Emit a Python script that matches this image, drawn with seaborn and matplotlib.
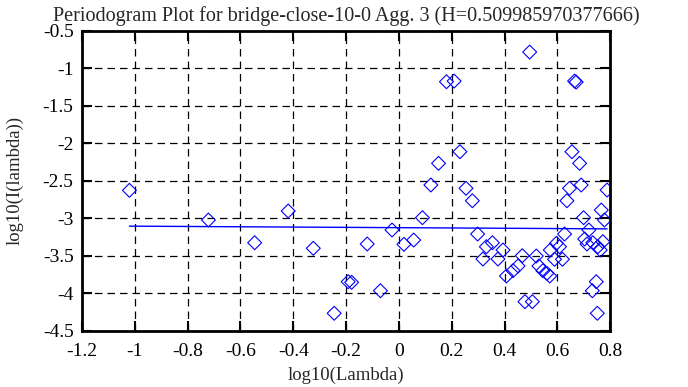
import numpy as np
import pandas as pd
import seaborn as sns
import matplotlib.pyplot as plt

#------------------------------------------------------------------------------------------------------------------------
# DATA
log_lambda = [-1.020, -0.721, -0.419, -0.546, -0.324, -0.192, -0.245,
              -0.179, -0.120, -0.070, -0.026, 0.019, 0.056, 0.089, 0.121,
              0.150, 0.180, 0.209, 0.231, 0.254, 0.278, 0.298, 0.318, 0.331,
              0.354, 0.375, 0.394, 0.407, 0.432, 0.451, 0.467, 0.477, 0.505,
              0.495, 0.520, 0.530, 0.545, 0.560, 0.571, 0.573, 0.589, 0.596,
              0.608, 0.619, 0.627, 0.636, 0.646, 0.655, 0.665, 0.671, 0.684,
              0.690, 0.699, 0.703, 0.719, 0.712, 0.734, 0.747, 0.732, 0.751,
              0.766, 0.778, 0.788, 0.753, 0.772, 0.762]
log_I = [-2.628, -3.024, -2.904, -3.327, -3.401, -3.847, -4.268,
         -3.855, -3.344, -3.967, -3.157, -3.348, -3.291, -2.993, -2.557,
         -2.268, -1.180, -1.171, -2.113, -2.601, -2.767, -3.211, -3.544, -3.380,
         -3.327, -3.544, -3.424, -3.771, -3.700, -3.637, -3.500, -4.113, -4.113,
         -0.784, -3.504, -3.637, -3.700, -3.735, -3.771, -3.424, -3.548, -3.335,
         -3.380, -3.548, -3.211, -2.767, -2.601, -2.113, -1.171, -1.184, -2.268,
         -2.557, -2.993, -3.277, -3.157, -3.344, -3.327, -3.847, -3.967, -4.268,
         -2.891, -3.024, -2.624, -3.380, -3.313, -3.424]

hurst = 0.509985970377666
fit_slope = 1 - 2 * hurst
fit_intercept = -3.126

x_ticks = [-1.2, -1, -0.8, -0.6, -0.4, -0.2, 0, 0.2, 0.4, 0.6, 0.8]
x_ticklabels = ['-1.2', '-1', '-0.8', '-0.6', '-0.4', '-0.2', '0', '0.2', '0.4', '0.6', '0.8']
y_ticks = [-4.5, -4, -3.5, -3, -2.5, -2, -1.5, -1, -0.5]
y_ticklabels = ['-4.5', '-4', '-3.5', '-3', '-2.5', '-2', '-1.5', '-1', '-0.5']

#------------------------------------------------------------------------------------------------------------------------
# PLOT
sns.set_style('ticks')
plt.rcParams['font.family'] = ['Liberation Serif', 'DejaVu Serif']

df = pd.DataFrame({'x': log_lambda, 'y': log_I})
fit_x = np.array([min(log_lambda), max(log_lambda)])
fit_df = pd.DataFrame({'x': fit_x, 'y': fit_intercept + fit_slope * fit_x})

fig = plt.figure(figsize=(6.88, 3.87), dpi=100)
ax = fig.add_axes([0.119, 0.1455, 0.768, 0.775])

sns.scatterplot(data=df, x='x', y='y', ax=ax, marker='D', s=50,
                facecolor='none', edgecolor='blue', linewidth=0.8, zorder=3)
sns.lineplot(data=fit_df, x='x', y='y', ax=ax, color='blue', linewidth=1, zorder=3)

ax.set_xlim(-1.2, 0.8)
ax.set_ylim(-4.5, -0.5)
ax.set_xticks(x_ticks)
ax.set_xticklabels(x_ticklabels)
ax.set_yticks(y_ticks)
ax.set_yticklabels(y_ticklabels)
ax.grid(True, color='black', linestyle=(0, (6, 4)), linewidth=0.9)
ax.tick_params(direction='in', top=True, right=True, length=7, width=1.5,
               labelsize=14, colors='black')
ax.tick_params(axis='x', pad=9)
ax.tick_params(axis='y', pad=6)
for spine in ax.spines.values():
    spine.set_visible(True)
    spine.set_linewidth(2)
    spine.set_color('black')

ax.set_title('Periodogram Plot for bridge-close-10-0 Agg. 3 (H=0.509985970377666)',
             fontsize=14.5, pad=7)
ax.set_xlabel('log10(Lambda)', fontsize=13.5, labelpad=5)
ax.set_ylabel('log10(I(lambda))', fontsize=13.5, labelpad=14)

fig.savefig('out.png', dpi=100)
